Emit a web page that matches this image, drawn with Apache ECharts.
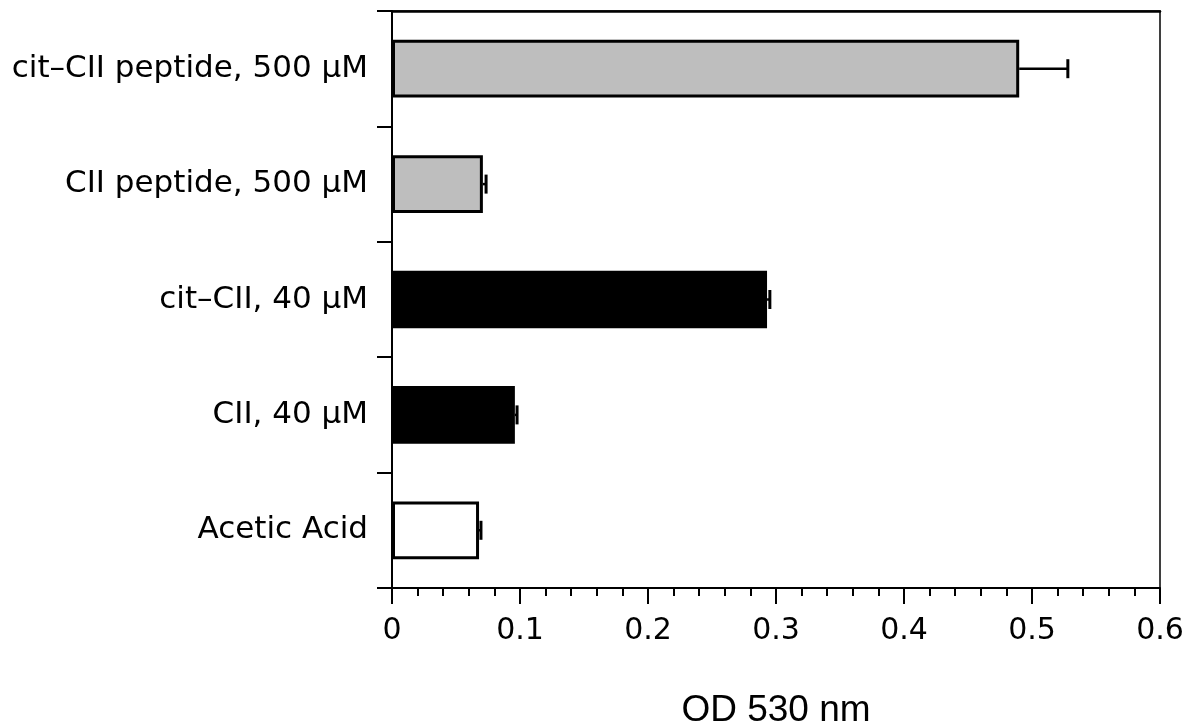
<!DOCTYPE html>
<html>
<head>
<meta charset="utf-8">
<script src="https://cdn.jsdelivr.net/npm/echarts@6/dist/echarts.min.js"></script>
<style>
html,body{margin:0;padding:0;background:#fff;}
#chart{width:1201px;height:726px;}
</style>
</head>
<body>
<div id="chart"></div>
<script>
var categories = ['Acetic Acid', 'CII, 40 μM', 'cit\u2013CII, 40 μM', 'CII peptide, 500 μM', 'cit\u2013CII peptide, 500 μM'];
var means = [0.068, 0.096, 0.293, 0.071, 0.490];
var errors = [0.0015, 0.0017, 0.0022, 0.0025, 0.038];
var xTicks = [0, 0.1, 0.2, 0.3, 0.4, 0.5, 0.6];
var barColors = ['#ffffff', '#000000', '#000000', '#bebebe', '#bebebe'];

var chart = echarts.init(document.getElementById('chart'), null, {renderer: 'canvas'});
var labelFont = 'DejaVu Sans';

var option = {
  backgroundColor: '#fff',
  animation: false,
  grid: {
    left: 392, right: 41, top: 11, bottom: 138,
    show: true, borderColor: '#000', borderWidth: 1.5, containLabel: false,
    outerBoundsMode: 'none'
  },
  xAxis: [{
    type: 'value',
    min: xTicks[0], max: xTicks[xTicks.length - 1], interval: 0.1,
    position: 'bottom',
    name: 'OD 530 nm',
    nameLocation: 'middle',
    nameGap: 104,
    nameTextStyle: {fontFamily: 'Liberation Sans', fontSize: 37, color: '#000'},
    axisLine: {show: true, lineStyle: {color: '#000', width: 2}},
    axisTick: {show: true, inside: false, length: 16, lineStyle: {color: '#000', width: 2}},
    minorTick: {show: true, splitNumber: 5, length: 8, lineStyle: {color: '#000', width: 2}},
    splitLine: {show: false},
    axisLabel: {
      margin: 28, fontFamily: labelFont, fontSize: 30, color: '#000',
      formatter: function (v) { return String(Math.round(v * 10) / 10); }
    }
  }, {
    type: 'value', position: 'top',
    min: xTicks[0], max: xTicks[xTicks.length - 1],
    axisLine: {show: true, lineStyle: {color: '#000', width: 2.5}},
    axisTick: {show: false}, axisLabel: {show: false}, splitLine: {show: false}
  }],
  yAxis: {
    type: 'category',
    data: categories,
    axisLine: {show: true, lineStyle: {color: '#000', width: 2}},
    axisTick: {show: true, length: 15, lineStyle: {color: '#000', width: 2}},
    axisLabel: {margin: 24, fontFamily: labelFont, fontSize: 31, color: '#000'},
    splitLine: {show: false}
  },
  series: [{
    type: 'bar',
    barWidth: '50%',
    data: means.map(function (v, i) {
      return {value: v, itemStyle: {color: barColors[i], borderColor: '#000', borderWidth: 3}};
    }),
    z: 2
  }, {
    type: 'custom',
    z: 3,
    data: means.map(function (v, i) { return [i, v, errors[i]]; }),
    renderItem: function (params, api) {
      var idx = api.value(0);
      var m = api.value(1);
      var e = api.value(2);
      var p0 = api.coord([m, idx]);
      var p1 = api.coord([m + e, idx]);
      var half = 9.5;
      var style = {stroke: '#000', lineWidth: 3};
      return {
        type: 'group',
        children: [
          {type: 'line', shape: {x1: p0[0], y1: p0[1], x2: p1[0], y2: p1[1]}, style: {stroke: '#000', lineWidth: 2.5}},
          {type: 'line', shape: {x1: p1[0], y1: p1[1] - half, x2: p1[0], y2: p1[1] + half}, style: style}
        ]
      };
    }
  }]
};
chart.setOption(option);
</script>
</body>
</html>
